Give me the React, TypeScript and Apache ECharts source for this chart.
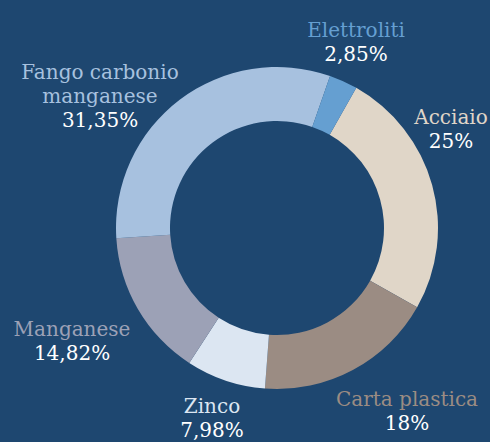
import React, { useEffect, useRef } from "react";
import * as echarts from "echarts";

const names = ["Acciaio", "Carta plastica", "Zinco", "Manganese", "Fango carbonio\nmanganese", "Elettroliti"];
const values = [25, 18, 7.98, 14.82, 31.35, 2.85];
const colors = ["#e0d6c8", "#9b8c83", "#dce6f2", "#9ca1b6", "#a7c1df", "#659fd1"];

// label block centres (layout only)
const labelCenters: [number, number][] = [
  [451, 129],
  [407, 411],
  [212, 418],
  [72, 341],
  [100, 96],
  [356, 42],
];

const BG = "#1e4770";
const FONT = "'DejaVu Serif', serif";
const FS = 20;
const LH = 24;

export default function App() {
  const ref = useRef<HTMLDivElement>(null);
  useEffect(() => {
    document.body.style.margin = "0";
    document.body.style.background = BG;
    const chart = echarts.init(ref.current!, undefined, { renderer: "svg" });
    const rich: Record<string, any> = {
      v: { color: "#ffffff", fontSize: FS, fontFamily: FONT, lineHeight: LH, align: "center" },
    };
    colors.forEach((c, i) => {
      rich["n" + i] = { color: c, fontSize: FS, fontFamily: FONT, lineHeight: LH, align: "center" };
    });
    chart.setOption({
      animation: false,
      backgroundColor: BG,
      series: [
        {
          type: "pie",
          center: [277, 228],
          radius: [107, 161],
          startAngle: 60.5,
          clockwise: true,
          avoidLabelOverlap: false,
          label: {
            show: true,
            position: "outside",
            overflow: "none",
            formatter: (p: any) => {
              const lines = String(p.name).split("\n").map((l) => `{n${p.dataIndex}|${l}}`).join("\n");
              return `${lines}\n{v|${String(p.value).replace(".", ",")}%}`;
            },
            rich,
            fontFamily: FONT,
            align: "center",
          },
          labelLine: { show: false, length: 40, length2: 0 },
          labelLayout: (p: any) => ({
            x: labelCenters[p.dataIndex][0],
            y: labelCenters[p.dataIndex][1],
            align: "center",
            verticalAlign: "middle",
            hideOverlap: false,
          }),
          itemStyle: { borderWidth: 0 },
          emphasis: { disabled: true },
          data: names.map((n, i) => ({ name: n, value: values[i], itemStyle: { color: colors[i] } })),
        },
      ],
    });
    return () => chart.dispose();
  }, []);
  return <div ref={ref} style={{ width: 490, height: 442 }} />;
}
